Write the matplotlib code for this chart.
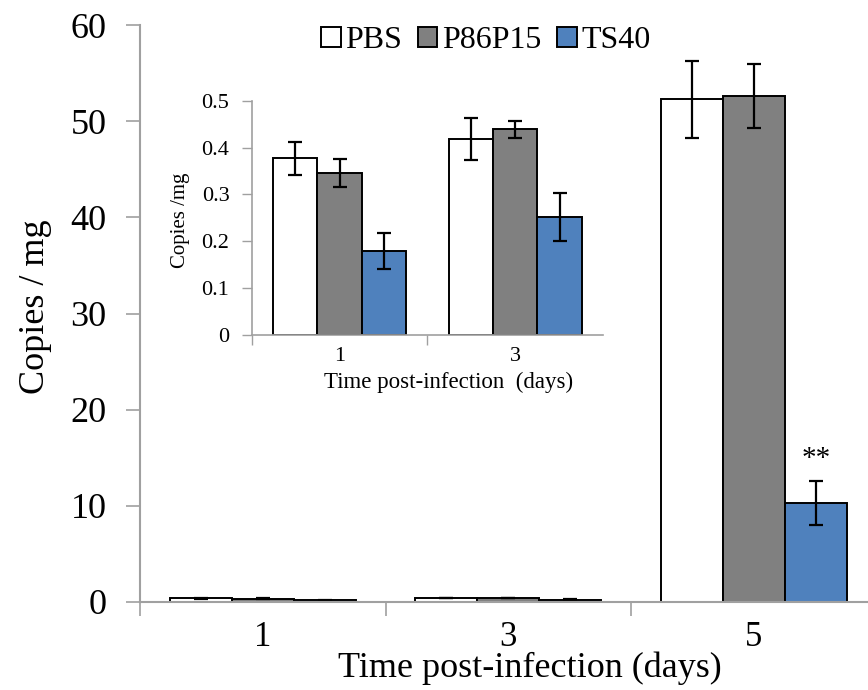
import numpy as np
import matplotlib
matplotlib.use('Agg')
import matplotlib.pyplot as plt
from matplotlib.patches import Patch

plt.rcParams['font.family'] = ['Liberation Serif', 'DejaVu Serif']

# dane
dni = ['1', '3', '5']
grupy = ['PBS', 'P86P15', 'TS40']
kolory = ['white', '#808080', '#4f81bd']

pbs = [0.377, 0.419, 52.3]
pbs_err = [0.035, 0.045, 4.0]
p86 = [0.345, 0.439, 52.6]
p86_err = [0.030, 0.018, 3.3]
ts40 = [0.179, 0.252, 10.3]
ts40_err = [0.038, 0.052, 2.3]

wartosci = [pbs, p86, ts40]
bledy = [pbs_err, p86_err, ts40_err]

szary = '#a0a0a0'
szer = 0.253

fig = plt.figure(figsize=(8.68, 6.9), dpi=100)

# wykres glowny
ax = fig.add_axes([140/868, 1-602/690, 736.5/868, (602-25)/690])
x = np.arange(len(dni))
for i in range(3):
    ax.bar(x + (i-1)*szer, wartosci[i], szer, yerr=bledy[i], color=kolory[i],
           edgecolor='black', linewidth=1.4, capsize=5,
           error_kw=dict(elinewidth=1.6, capthick=1.6, ecolor='black'))

ax.text(x[2] + szer, ts40[2] + ts40_err[2] + 2.3, '**', ha='center', va='center', fontsize=21)

ax.set_xlim(-0.5, 2.5)
ax.set_ylim(0, 60)
ax.set_yticks(np.arange(0, 61, 10))
ax.set_xticks(x)
ax.set_xticklabels(dni)
ax.set_xticks([-0.5, 0.5, 1.5], minor=True)
ax.tick_params(axis='x', which='major', length=0, labelsize=25, pad=14)
ax.tick_params(axis='x', which='minor', length=10, color=szary, width=1.2)
ax.tick_params(axis='y', length=10, color=szary, width=1.2, labelsize=26, pad=14)
for s in ['top', 'right']:
    ax.spines[s].set_visible(False)
for s in ['left', 'bottom']:
    ax.spines[s].set_color(szary)
    ax.spines[s].set_linewidth(1.5)
ax.set_xlabel('Time post-infection (days)', fontsize=26, va='center')
ax.xaxis.set_label_coords((530-140)/736.5, -(668-602)/577)
ax.set_ylabel('Copies / mg', fontsize=26, va='center')
ax.yaxis.set_label_coords((35-140)/736.5, (602-307)/577)

# legenda
uchwyty = [Patch(facecolor=kolory[i], edgecolor='black', linewidth=1.4) for i in range(3)]
fig.legend(uchwyty, grupy, loc='center', bbox_to_anchor=(486/868, 1-41/690), ncol=3,
           frameon=False, fontsize=23, handlelength=0.6, handleheight=0.6,
           handletextpad=0.15, columnspacing=0.5, borderpad=0)

# wstawka
axi = fig.add_axes([251.7/868, 1-335/690, (603-251.7)/868, (335-100.7)/690])
xi = np.arange(2)
for i in range(3):
    axi.bar(xi + (i-1)*szer, wartosci[i][:2], szer, yerr=bledy[i][:2], color=kolory[i],
            edgecolor='black', linewidth=1.4, capsize=5,
            error_kw=dict(elinewidth=1.6, capthick=1.6, ecolor='black'))
axi.set_xlim(-0.5, 1.5)
axi.set_ylim(0, 0.5)
axi.set_yticks(np.arange(0, 0.51, 0.1))
axi.set_yticklabels(['0', '0.1', '0.2', '0.3', '0.4', '0.5'])
axi.set_xticks(xi)
axi.set_xticklabels(dni[:2])
axi.set_xticks([-0.5, 0.5], minor=True)
axi.tick_params(axis='x', which='major', length=0, labelsize=16, pad=9)
axi.tick_params(axis='x', which='minor', length=7, color=szary, width=1.0)
axi.tick_params(axis='y', length=7, color=szary, width=1.0, labelsize=16, pad=9)
for s in ['top', 'right']:
    axi.spines[s].set_visible(False)
for s in ['left', 'bottom']:
    axi.spines[s].set_color(szary)
    axi.spines[s].set_linewidth(1.2)
axi.set_xlabel('Time post-infection  (days)', fontsize=16.5, va='center')
axi.xaxis.set_label_coords((449-251.7)/351.3, -(382-335)/234.3)
axi.set_ylabel('Copies /mg', fontsize=15, va='center')
axi.yaxis.set_label_coords((181-251.7)/351.3, (335-220)/234.3)

fig.savefig('out.png', dpi=100)
